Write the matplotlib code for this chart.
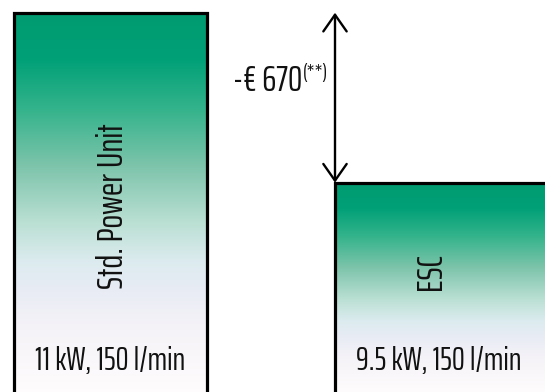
import numpy as np
import matplotlib.pyplot as plt
from matplotlib.colors import LinearSegmentedColormap

# data
units = ["Std. Power Unit", "ESC"]
cost = [1510, 840]
specs = ["11 kW, 150 l/min", "9.5 kW, 150 l/min"]
saving_label = "-€ 670"
saving_note = "(**)"

FONT = ["Saira ExtraCondensed", "DejaVu Sans"]
INK = "#111111"

# gradient from top (0) to bottom (1)
stops = [(0.0, "#009b70"), (0.12, "#00a077"), (0.25, "#33b38b"),
         (0.40, "#7dc4ab"), (0.55, "#bbe0d4"), (0.65, "#dcebef"),
         (0.73, "#e9ecf5"), (0.83, "#f6f3f8"), (1.0, "#fffdfd")]
cmap = LinearSegmentedColormap.from_list("grad", stops)

fig = plt.figure(figsize=(5.45, 3.92), dpi=100)
ax = fig.add_axes([0, 0, 1, 1])
ax.axis("off")

x = np.arange(len(units))
widths = [0.6, 0.72]
bars = ax.bar(x - 0.3, cost, width=widths, align="edge", facecolor="none",
              edgecolor="black", linewidth=2.3, zorder=3)

grad = np.linspace(0, 1, 256).reshape(-1, 1)
for b in bars:
    x0, y0 = b.get_x(), b.get_y()
    im = ax.imshow(grad, cmap=cmap, aspect="auto", origin="upper",
                   extent=[x0, x0 + b.get_width(), y0, y0 + b.get_height()],
                   zorder=1)
    im.set_clip_path(b)

ax.set_xlim(-0.3436, 1.3542)
ax.set_ylim(15, 1560)

name_x = [0.008, 1.0]
name_y = [748, 488]
spec_x = [0, 1.022]
for i in range(len(units)):
    ax.text(name_x[i], name_y[i], units[i], rotation=90,
            ha="center", va="center", fontsize=26, family=FONT,
            color=INK, zorder=4)
    ax.text(spec_x[i], 137, specs[i], ha="center", va="center",
            fontsize=23.5, family=FONT, color=INK, zorder=4)

# saving arrow
ax.annotate("", xy=(0.7, cost[0]), xytext=(0.7, cost[1]),
            arrowprops=dict(arrowstyle="<->,head_length=0.6,head_width=0.42",
                            lw=1.7, color="black", shrinkA=0, shrinkB=0,
                            mutation_scale=20), zorder=5)

note = ax.text(0.678, 1310, saving_note, ha="right", va="top",
               fontsize=15, family=FONT, color=INK)
fig.canvas.draw()
nb = note.get_window_extent()
left = ax.transData.inverted().transform((nb.x0 - 1, 0))[0]
ax.text(left, 1240, saving_label, ha="right", va="center",
        fontsize=26, family=FONT, color=INK)

fig.savefig("out.png", dpi=100)
